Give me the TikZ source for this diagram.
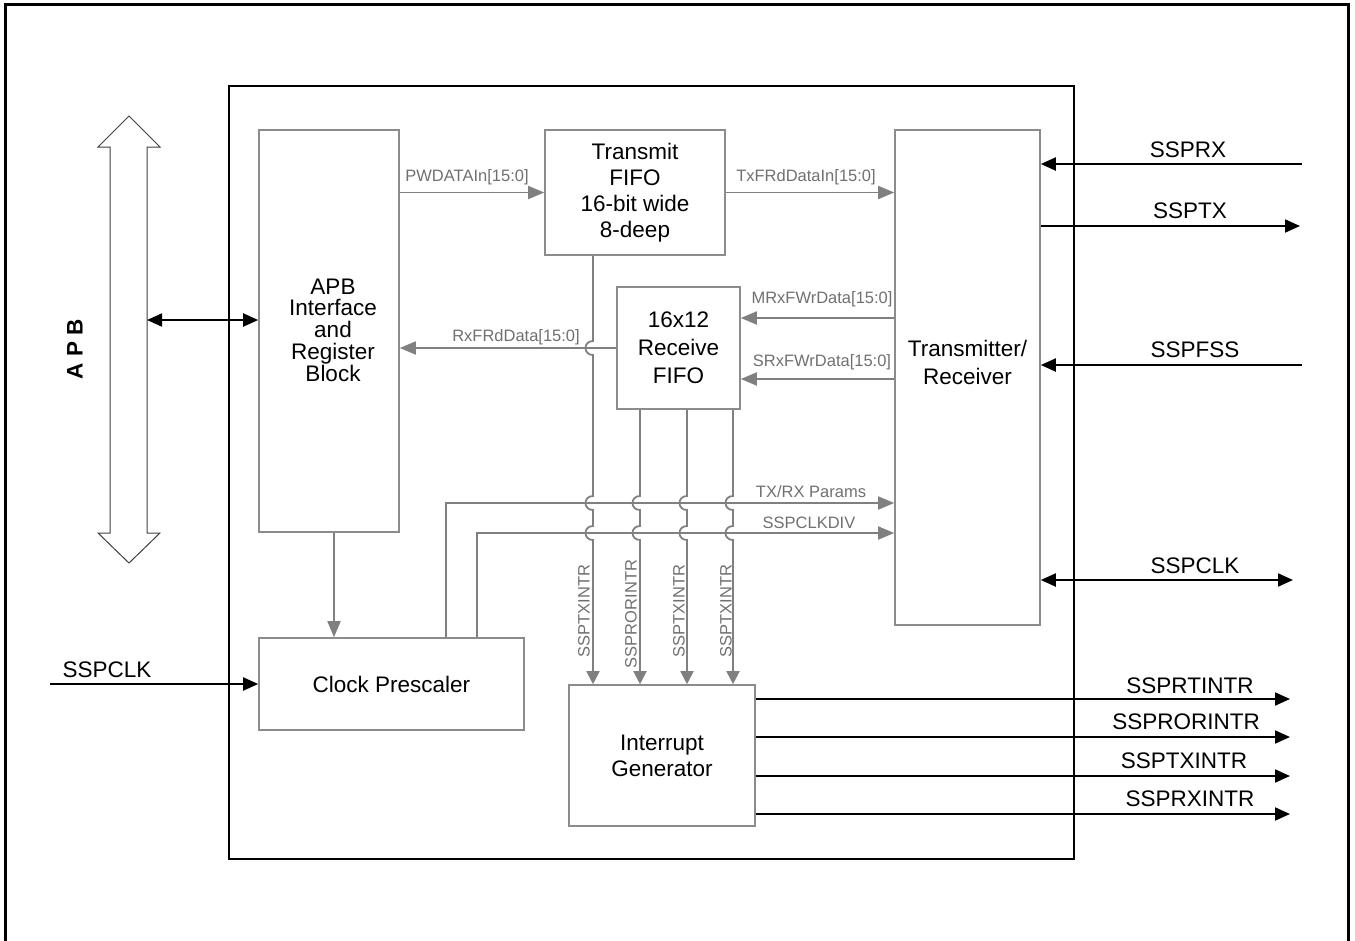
\documentclass[tikz,border=0pt]{standalone}
\usepackage{fontspec}
\setmainfont{Liberation Sans}
\usetikzlibrary{arrows.meta}
\definecolor{gline}{RGB}{128,128,128}
\definecolor{gbox}{RGB}{140,140,140}
\definecolor{gtext}{RGB}{112,112,112}
\begin{document}
\begin{tikzpicture}[x=1pt,y=-1pt,
  blk/.style={draw=gbox,line width=1.6pt,align=center,inner sep=0pt,font=\fontsize{22.5}{26}\selectfont},
  gtip/.tip={Triangle[length=16pt,width=13pt]},
  btip/.tip={Triangle[length=15pt,width=13pt]},
  stip/.tip={Triangle[length=13pt,width=13pt]},
  gar/.style={draw=gline,line width=1.8pt,-gtip},
  gars/.style={draw=gline,line width=1.8pt,-stip},
  bar/.style={draw=black,line width=2pt,-btip},
  bdbl/.style={draw=black,line width=2pt,btip-btip},
  glab/.style={text=gtext,font=\fontsize{16.5}{19}\selectfont,inner sep=0pt},
  blab/.style={text=black,font=\fontsize{22.5}{26}\selectfont,inner sep=0pt},
]
\useasboundingbox (0,0) rectangle (1355,940);
% frames
\draw[line width=2.5pt] (5.5,945) -- (5.5,4.5) -- (1348.5,4.5) -- (1348.5,945);
\node[draw=black,line width=2pt,minimum width=845pt,minimum height=773pt,inner sep=0pt] (chip) at (651.5,472.5) {};

% blocks
\node[blk,minimum width=140pt,minimum height=402pt] (apb) at (329,331) {};
\node[blk,draw=none,font=\fontsize{22.5}{21.8}\selectfont] (apbtext) at (333,330) {APB\\Interface\\and\\Register\\Block};
\node[blk,minimum width=180pt,minimum height=125pt] (txf) at (635,192.5) {Transmit\\FIFO\\16-bit wide\\8-deep};
\node[blk,minimum width=123pt,minimum height=122pt,font=\fontsize{22.5}{28}\selectfont] (rxf) at (678.5,348) {16x12\\Receive\\FIFO};
\node[blk,minimum width=145pt,minimum height=495pt] (trx) at (967.5,377.5) {};
\node[blk,draw=none,font=\fontsize{22.5}{28}\selectfont] (trxtext) at (967.5,362) {Transmitter/\\Receiver};
\node[blk,minimum width=265pt,minimum height=92pt] (clk) at (391.5,684) {Clock Prescaler};
\node[blk,minimum width=186pt,minimum height=141pt] (intg) at (662,755.5) {Interrupt\\Generator};

% APB bus (hollow double arrow)
\draw[draw=black!75,line width=1pt,fill=white] (129,116) -- (160,147) -- (147,147) -- (147,533) -- (160,533) -- (129,563) -- (98,533) -- (110,533) -- (110,147) -- (98,147) -- cycle;
\node[rotate=90,inner sep=0pt,font=\bfseries\fontsize{22.5}{26}\selectfont] (apblab) at (75,349) {A P B};
\coordinate (busR) at (147,320);
\draw[bdbl] (busR) -- (busR -| apb.west);

% coordinates
\coordinate (yM) at (0,318);
\coordinate (yS) at (0,379);
\coordinate (yT) at (0,503);
\coordinate (yK) at (0,533);
\coordinate (xA) at (446,0);
\coordinate (xB) at (477,0);
\coordinate (xC) at (334,0);
\coordinate (v1) at (593,0);
\coordinate (v2) at (640,0);
\coordinate (v3) at (687,0);
\coordinate (v4) at (733,0);

% gray data paths
\draw[gar] (apb.east |- txf.west) -- (txf.west);
\node[glab] (lpw) at (467,177) {PWDATAIn[15:0]};
\draw[gar] (txf.east) -- (txf.east -| trx.west);
\node[glab] (ltx) at (806,177) {TxFRdDataIn[15:0]};
\draw[gar] (trx.west |- yM) -- (rxf.east |- yM);
\node[glab] (lm) at (822,299) {MRxFWrData[15:0]};
\draw[gar] (trx.west |- yS) -- (rxf.east |- yS);
\node[glab] (ls) at (822,362) {SRxFWrData[15:0]};
\draw[gar] (rxf.west) -- (rxf.west -| apb.east);
\node[glab] (lrx) at (516,337) {RxFRdData[15:0]};

\draw[gar] (apb.south -| xC) -- (clk.north -| xC);
\draw[gar] (clk.north -| xA) -- (xA |- yT) -- (yT -| trx.west);
\node[glab] (lpar) at (811,492) {TX/RX Params};
\draw[gar] (clk.north -| xB) -- (xB |- yK) -- (yK -| trx.west);
\node[glab] (ldiv) at (809,523) {SSPCLKDIV};

% vertical interrupt lines with hops
\draw[gars] (txf.south -| v1) -- (593,341) .. controls (583,341) and (583,355) .. (593,355)
  -- (593,496) .. controls (583,496) and (583,510) .. (593,510)
  -- (593,526) .. controls (583,526) and (583,540) .. (593,540) -- (v1 |- intg.north);
\draw[gars] (rxf.south -| v2) -- (640,496) .. controls (630,496) and (630,510) .. (640,510)
  -- (640,526) .. controls (630,526) and (630,540) .. (640,540) -- (v2 |- intg.north);
\draw[gars] (rxf.south -| v3) -- (687,496) .. controls (677,496) and (677,510) .. (687,510)
  -- (687,526) .. controls (677,526) and (677,540) .. (687,540) -- (v3 |- intg.north);
\draw[gars] (rxf.south -| v4) -- (733,496) .. controls (723,496) and (723,510) .. (733,510)
  -- (733,526) .. controls (723,526) and (723,540) .. (733,540) -- (v4 |- intg.north);
\node[glab,rotate=90] (li1) at (584,611) {SSPTXINTR};
\node[glab,rotate=90] (li2) at (631,614) {SSPRORINTR};
\node[glab,rotate=90] (li3) at (679,611) {SSPTXINTR};
\node[glab,rotate=90] (li4) at (726,611) {SSPTXINTR};

% external black signals
\coordinate (sclk) at (50,684);
\draw[bar] (sclk) -- (clk.west);
\node[blab] (lsclk) at (107,670) {SSPCLK};

\coordinate (prx) at (1302,164);
\draw[bar] (prx) -- (prx -| trx.east);
\node[blab] (lprx) at (1188,150) {SSPRX};
\coordinate (ptx) at (1300,226);
\draw[bar] (ptx -| trx.east) -- (ptx);
\node[blab] (lptx) at (1190,211) {SSPTX};
\coordinate (pfs) at (1302,365);
\draw[bar] (pfs) -- (pfs -| trx.east);
\node[blab] (lpfs) at (1195,350) {SSPFSS};
\coordinate (pck) at (1293,580);
\draw[bdbl] (pck -| trx.east) -- (pck);
\node[blab] (lpck) at (1195,566) {SSPCLK};

\coordinate (o1) at (1290,699);
\coordinate (o2) at (1290,737);
\coordinate (o3) at (1290,776);
\coordinate (o4) at (1290,814);
\draw[bar] (o1 -| intg.east) -- (o1);
\draw[bar] (o2 -| intg.east) -- (o2);
\draw[bar] (o3 -| intg.east) -- (o3);
\draw[bar] (o4 -| intg.east) -- (o4);
\node[blab] (lo1) at (1190,686) {SSPRTINTR};
\node[blab] (lo2) at (1186,722) {SSPRORINTR};
\node[blab] (lo3) at (1184,761) {SSPTXINTR};
\node[blab] (lo4) at (1190,799) {SSPRXINTR};
\end{tikzpicture}
\end{document}
